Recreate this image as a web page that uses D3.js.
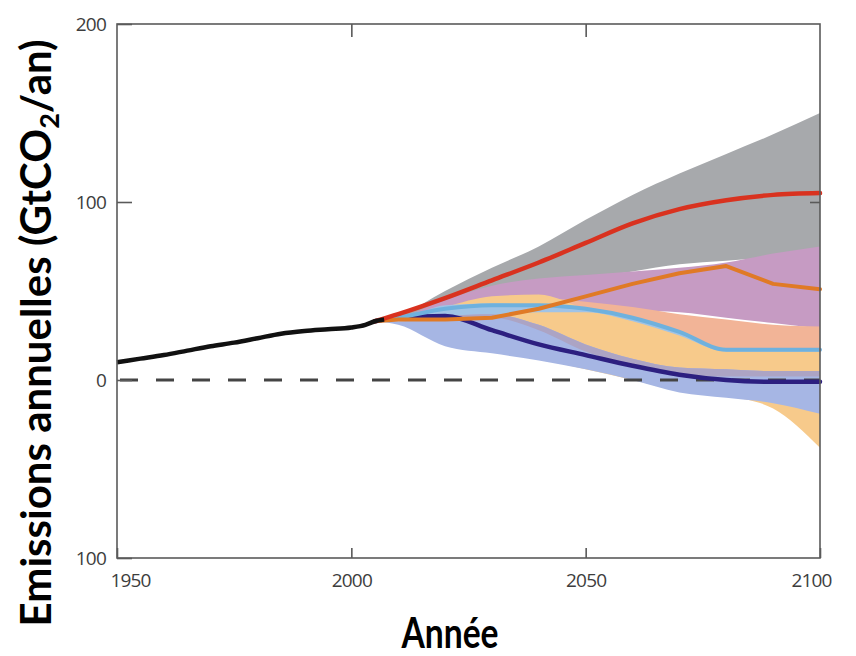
<!DOCTYPE html>
<html>
<head>
<meta charset="utf-8">
<script src="https://cdn.jsdelivr.net/npm/d3@7"></script>
<style>
  html, body { margin: 0; padding: 0; background: #fff; }
  svg { display: block; }
</style>
</head>
<body>
<svg id="chart" width="856" height="656"></svg>
<script>
// Historical emissions (GtCO2 per year)
const histYears = [1950, 1955, 1960, 1965, 1970, 1975, 1980, 1985, 1990, 1995, 2000, 2003, 2005, 2007];
const histValues = [10, 12, 14, 16.5, 19, 21, 23.5, 26, 27.5, 28.5, 29.5, 31, 33, 34];

// Scenario years
const years = [2005, 2010, 2020, 2030, 2040, 2050, 2060, 2070, 2080, 2090, 2100];

// Scenario ranges (lower / upper bounds), back to front
const greyLow = [33, 35, 40, 46, 52, 57, 61, 65, 67, 69, 70];
const greyHigh = [33, 36, 50, 63, 75, 90, 104, 116, 127, 138, 150];
const purpleLow = [33, 34, 36, 38, 40, 40, 39, 38, 35, 32, 29];
const purpleHigh = [33, 35, 45, 53, 57, 59, 61, 63, 66, 71, 75];
const salmonLow = [33, 34, 35, 32, 26, 20, 16, 14, 12, 10, 9];
const salmonHigh = [33, 34, 40, 45, 46, 44, 41, 37, 34, 31, 30];
const yellowLow = [33, 33, 25, 18, 12, 6, 0, -6, -9, -16, -38];
const yellowHigh = [33, 34, 41, 47, 48, 40, 34, 27, 18, 17, 16];
const lightBlueLow = [33, 33, 35, 36, 38, 38, 33, 25, 16, 16, 16];
const lightBlueHigh = [33, 34, 42, 43, 42, 40, 35, 27, 17, 17, 17];
const blueLow = [33, 31, 19, 15, 11, 6, 0, -7, -10, -13, -19];
const blueHigh = [33, 33, 36, 37, 31, 20, 12, 7, 6, 5, 5];
const blueEdgeLow = [33, 33, 35, 35, 28, 16, 8, 3, 2, 2, 2];
const blueEdgeHigh = [33, 33, 36, 37, 31, 20, 12, 7, 6, 5, 5];

// Representative pathways
const redLine = [33, 37, 46, 56, 66, 77, 88, 96, 101, 104, 105];
const orangeLine = [33, 34, 34, 35, 40, 47, 54, 60, 64, 54, 51];
const skyLine = [33, 35, 40, 42, 42, 40, 35, 27, 17, 17, 17];
const navyLine = [33, 35, 36, 28, 20, 14, 8, 3, 0, -1, -1];

// Axis ticks
const xTicks = [1950, 2000, 2050, 2100];
const xTickLabels = ["1950", "2000", "2050", "2100"];
const yTicks = [200, 100, 0, -100];
const yTickLabels = ["200", "100", "0", "100"];

const svg = d3.select("#chart");
const plotLeft = 117, plotRight = 820, plotTop = 24, plotBottom = 558;

const x = d3.scaleLinear().domain([1950, 2100]).range([plotLeft, plotRight]);
const y = d3.scaleLinear().domain([-100, 200]).range([plotBottom, plotTop]);

const bands = [
  { low: greyLow, high: greyHigh, color: "#a7a9ac" },
  { low: purpleLow, high: purpleHigh, color: "#c69bc3" },
  { low: salmonLow, high: salmonHigh, color: "#f2b497" },
  { low: yellowLow, high: yellowHigh, color: "#f7ca8b" },
  { low: lightBlueLow, high: lightBlueHigh, color: "#a0c3e6" },
  { low: blueLow, high: blueHigh, color: "#a6b6e4" },
  { low: blueEdgeLow, high: blueEdgeHigh, color: "#aca4c4" }
];

const area = d3.area()
  .x(d => x(d.year))
  .y0(d => y(d.low))
  .y1(d => y(d.high))
  .curve(d3.curveMonotoneX);

svg.append("g").selectAll("path")
  .data(bands)
  .join("path")
  .attr("d", b => area(years.map((yr, i) => ({ year: yr, low: b.low[i], high: b.high[i] }))))
  .attr("fill", b => b.color);

// Zero reference line
svg.append("line")
  .attr("x1", x(1950) + 3).attr("x2", x(2100))
  .attr("y1", y(0)).attr("y2", y(0))
  .attr("stroke", "#444")
  .attr("stroke-width", 3)
  .attr("stroke-dasharray", "18,18");

const smoothLine = d3.line()
  .x(d => x(d[0]))
  .y(d => y(d[1]))
  .curve(d3.curveMonotoneX);

const straightLine = d3.line()
  .x(d => x(d[0]))
  .y(d => y(d[1]));

const pathways = [
  { vals: navyLine, color: "#2c1f80", w: 4.5, gen: smoothLine },
  { vals: skyLine, color: "#6fb1de", w: 4, gen: smoothLine },
  { vals: orangeLine, color: "#e07a26", w: 4, gen: straightLine },
  { vals: redLine, color: "#d9321f", w: 4.5, gen: smoothLine }
];

svg.append("g").selectAll("path")
  .data(pathways)
  .join("path")
  .attr("d", p => p.gen(years.map((yr, i) => [yr, p.vals[i]])))
  .attr("fill", "none")
  .attr("stroke", p => p.color)
  .attr("stroke-width", p => p.w)
  .attr("stroke-linejoin", "round")
  .attr("stroke-linecap", "round");

svg.append("path")
  .attr("d", smoothLine(histYears.map((yr, i) => [yr, histValues[i]])))
  .attr("fill", "none")
  .attr("stroke", "#111")
  .attr("stroke-width", 4.5)
  .attr("stroke-linejoin", "round");

// Frame
svg.append("rect")
  .attr("x", plotLeft).attr("y", plotTop)
  .attr("width", plotRight - plotLeft).attr("height", plotBottom - plotTop)
  .attr("fill", "none")
  .attr("stroke", "#5a5a5a")
  .attr("stroke-width", 1.6);

const tickFont = "'Open Sans', sans-serif";

function styleAxis(g) {
  g.select(".domain").remove();
  g.selectAll(".tick line").attr("stroke", "#5a5a5a").attr("stroke-width", 1.6);
  g.selectAll(".tick text")
    .attr("fill", "#3d3d3d")
    .style("font-family", tickFont)
    .style("font-size", "19px")
    .style("letter-spacing", "-0.8px");
}

// Bottom axis with inward ticks
const xAxisG = svg.append("g")
  .attr("transform", `translate(0,${plotBottom})`)
  .call(d3.axisBottom(x).tickValues(xTicks)
    .tickFormat((d, i) => xTickLabels[i])
    .tickSizeInner(-10).tickSizeOuter(0).tickPadding(16))
  .call(styleAxis);
// end labels sit slightly inside the frame corners
xAxisG.selectAll(".tick text")
  .attr("dx", d => d === 1950 ? 13 : d === 2100 ? -9 : 0);

// Top axis ticks
svg.append("g")
  .attr("transform", `translate(0,${plotTop})`)
  .call(d3.axisTop(x).tickValues([2000, 2050]).tickFormat("")
    .tickSizeInner(-13).tickSizeOuter(0))
  .call(styleAxis);

// Left axis with inward ticks
svg.append("g")
  .attr("transform", `translate(${plotLeft},0)`)
  .call(d3.axisLeft(y).tickValues(yTicks)
    .tickFormat((d, i) => yTickLabels[i])
    .tickSizeInner(-15).tickSizeOuter(0).tickPadding(11))
  .call(styleAxis);

// Right axis tick
svg.append("g")
  .attr("transform", `translate(${plotRight},0)`)
  .call(d3.axisRight(y).tickValues([100]).tickFormat("")
    .tickSizeInner(-10).tickSizeOuter(0))
  .call(styleAxis);

// Axis titles
svg.append("text")
  .attr("transform", "translate(450,648) scale(0.8,1)")
  .attr("text-anchor", "middle")
  .style("font-family", "Lato, sans-serif")
  .style("font-weight", 700)
  .style("font-size", "42px")
  .attr("fill", "#000")
  .text("Année");

const yTitle = svg.append("text")
  .attr("transform", "translate(51,333) rotate(-90)")
  .attr("text-anchor", "middle")
  .style("font-family", "Lato, sans-serif")
  .style("font-weight", 700)
  .style("font-size", "42px")
  .attr("fill", "#000");
yTitle.append("tspan").text("Emissions annuelles (GtCO");
yTitle.append("tspan").attr("dy", 8).style("font-size", "27px").text("2");
yTitle.append("tspan").attr("dy", -8).text("/an)");
</script>
</body>
</html>
